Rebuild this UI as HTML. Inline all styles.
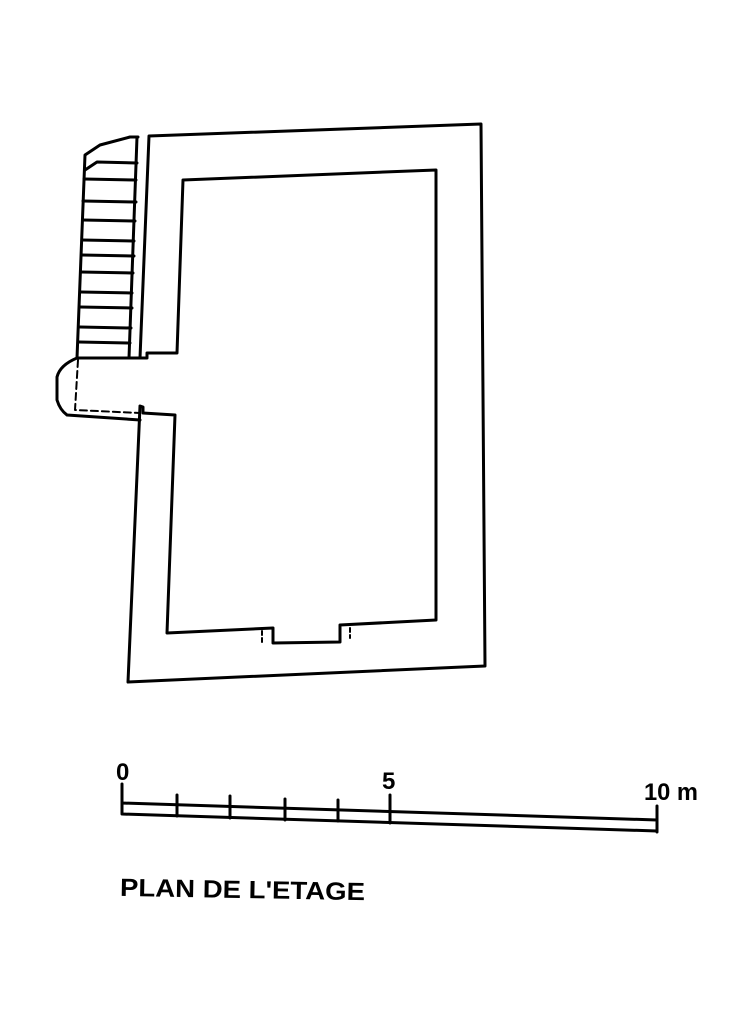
<!DOCTYPE html>
<html><head><meta charset="utf-8"><style>html,body{margin:0;padding:0;background:#fff}svg{display:block}</style></head>
<body>
<svg width="744" height="1024" viewBox="0 0 744 1024" xmlns="http://www.w3.org/2000/svg">
<g fill="none" stroke="#000" stroke-width="3" stroke-linejoin="round" stroke-linecap="round">
<path d="M149,136 L481,124 L485,666 L128,682 L140,406 L143,407 L143,413 L175,415 L167,633 L273,628 L273,643 L340,642 L340,625 L436,620 L436,170 L183,180 L177,353 L147,353 L147,358 L140,358 Z"/>
<path d="M138,137 L130,137 L100,145 L85,155 L77,358 L140,358"/>
<path d="M137,137 L129,358"/>
<path d="M85,170 L97,162 L137,163"/>
<path d="M84,179 L136,180 M83,201 L136,202 M83,220 L135,221 M82,240 L134,241 M82,255 L134,256 M81,272 L133,273 M81,292 L132,293 M80,307 L132,308 M80,327 L131,328 M79,342 L130,343"/>
<path d="M77,358 Q60,365 57,377 L57,400 Q60,410 67,415 L140,420"/>
<path d="M78,360 L75,410 L140,413" stroke-dasharray="7,4" stroke-width="2"/>
<path d="M262,631 L262,643 M350,628 L350,638" stroke-dasharray="4,3" stroke-width="2"/>
<path d="M122,784 L122,814 M122,803 L657,820 M122,814 L657,831 M657,806 L657,832"/>
<path d="M177,795 L177,816 M230,796 L230,818 M285,799 L285,820 M338,800 L338,821 M390,795 L390,823"/>
</g>
<g font-family="Liberation Sans, sans-serif" font-weight="bold" fill="#000">
<text x="116" y="780" font-size="24">0</text>
<text x="382" y="789" font-size="24">5</text>
<text x="644" y="800" font-size="24" textLength="54" lengthAdjust="spacingAndGlyphs">10 m</text>
<text x="120" y="898" font-size="25" textLength="245" lengthAdjust="spacingAndGlyphs" transform="rotate(1,240,890)">PLAN DE L'ETAGE</text>
</g>
</svg>
</body></html>
